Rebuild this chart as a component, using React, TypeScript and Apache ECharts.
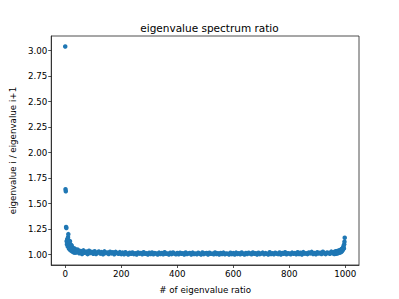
import React, { useEffect, useRef } from "react";
import * as echarts from "echarts";

const titleText = "eigenvalue spectrum ratio";
const xName = "# of eigenvalue ratio";
const yName = "eigenvalue i / eigenvalue i+1";

const xTicks = [0, 200, 400, 600, 800, 1000];
const yTicks = [1.0, 1.25, 1.5, 1.75, 2.0, 2.25, 2.5, 2.75, 3.0];

// indices 0..40 one by one
const headRatios = [
  3.04, 1.64, 1.62, 1.27, 1.26, 1.13, 1.1, 1.15, 1.12, 1.08, 1.17, 1.2, 1.14, 1.06, 1.11, 1.09, 1.05,
  1.13, 1.07, 1.1, 1.04, 1.08, 1.06, 1.09, 1.05, 1.03, 1.07, 1.04, 1.06, 1.03, 1.05, 1.02, 1.04,
  1.06, 1.03, 1.02, 1.04, 1.03, 1.05, 1.02, 1.03,
];

// indices 45..960 every 5th
const midStart = 45;
const midStep = 5;
const midRatios = [
  1.048, 1.012, 1.035, 1.006, 1.041, 1.018, 1.029, 1.004, 1.038, 1.015, 1.026, 1.008,
  1.033, 1.005, 1.021, 1.03, 1.009, 1.024, 1.002, 1.031, 1.014, 1.02, 1.006, 1.028, 1.011, 1.022,
  1.003, 1.026, 1.015, 1.008, 1.024, 1.004,
  1.019, 1.003, 1.022, 1.01, 1.001, 1.017, 1.008, 1.021, 1.004, 1.013,
  1.0, 1.02, 1.009, 1.015, 1.002, 1.023, 1.007, 1.012, 1.001, 1.018,
  1.006, 1.021, 1.003, 1.014, 1.01, 1.0, 1.019, 1.005, 1.016, 1.002,
  1.022, 1.008, 1.011, 1.001, 1.017, 1.004, 1.02, 1.009, 1.003, 1.015,
  1.002, 1.018, 1.007, 1.013, 1.0, 1.021, 1.005, 1.011, 1.016, 1.001,
  1.019, 1.006, 1.01, 1.003, 1.017, 1.008, 1.0, 1.02, 1.004, 1.012,
  1.015, 1.001, 1.018, 1.007, 1.009, 1.002, 1.021, 1.005, 1.013, 1.0,
  1.016, 1.006, 1.019, 1.003, 1.011, 1.008, 1.001, 1.017, 1.004, 1.014,
  1.001, 1.019, 1.006, 1.012, 1.003, 1.02, 1.008, 1.0, 1.015, 1.005,
  1.018, 1.01, 1.002, 1.021, 1.007, 1.013, 1.001, 1.017, 1.004, 1.011,
  1.019, 1.003, 1.014, 1.008, 1.0, 1.022, 1.006, 1.012, 1.002, 1.018,
  1.009, 1.004, 1.02, 1.001, 1.015, 1.007, 1.023, 1.003, 1.013, 1.01,
  1.002, 1.019, 1.008, 1.014, 1.003, 1.022, 1.006, 1.017, 1.001, 1.024,
  1.009, 1.013, 1.004, 1.02, 1.011, 1.026, 1.005, 1.016, 1.002, 1.023,
  1.01, 1.018, 1.006, 1.027, 1.013, 1.004, 1.021, 1.015, 1.008, 1.029,
  1.012, 1.024,
];

// indices 961..998 one by one
const tailStart = 961;
const tailRatios = [
  1.005, 1.022, 1.012, 1.03, 1.008, 1.025, 1.016, 1.032, 1.01, 1.027, 1.019, 1.035, 1.013, 1.029, 1.022,
  1.038, 1.016, 1.033, 1.025, 1.042, 1.02, 1.036, 1.03, 1.047, 1.024, 1.04, 1.052, 1.033, 1.058, 1.045,
  1.062, 1.05, 1.07, 1.085, 1.06, 1.1, 1.125, 1.165,
];

const FONT = "DejaVu Sans";

export default function App() {
  const ref = useRef<HTMLDivElement>(null);
  useEffect(() => {
    if (!ref.current) return;
    const chart = echarts.init(ref.current, null, { renderer: "svg" });
    const data: [number, number][] = [];
    headRatios.forEach((v, i) => data.push([i, v]));
    midRatios.forEach((v, i) => data.push([midStart + i * midStep, v]));
    tailRatios.forEach((v, i) => data.push([tailStart + i, v]));

    chart.setOption({
      animation: false,
      backgroundColor: "#ffffff",
      textStyle: { fontFamily: FONT },
      title: {
        text: titleText,
        left: 204.5,
        top: 17,
        textAlign: "center",
        textStyle: { fontFamily: FONT, fontSize: 10.5, fontWeight: "normal", color: "#000" },
      },
      grid: {
        left: 50,
        right: 40,
        top: 36,
        bottom: 33,
        show: true,
        borderColor: "#222",
        borderWidth: 0.8,
        backgroundColor: "transparent",
      },
      xAxis: {
        type: "value",
        min: -49.95,
        max: 1048.95,
        name: xName,
        nameLocation: "middle",
        nameGap: 20,
        nameTextStyle: { fontFamily: FONT, fontSize: 8.7, color: "#000" },
        axisLine: { show: true, onZero: false, lineStyle: { color: "#222", width: 0.8 } },
        axisTick: {
          show: true,
          length: 3,
          inside: false,
          customValues: xTicks,
          lineStyle: { color: "#222", width: 0.8 },
        },
        axisLabel: {
          customValues: xTicks,
          formatter: (v: number) => String(v),
          fontFamily: FONT,
          fontSize: 8.7,
          color: "#000",
          margin: 4,
        },
        splitLine: { show: false },
      },
      yAxis: {
        type: "value",
        min: 0.8975,
        max: 3.1425,
        name: yName,
        nameLocation: "middle",
        nameGap: 28,
        nameTextStyle: { fontFamily: FONT, fontSize: 8.7, color: "#000" },
        axisLine: { show: true, onZero: false, lineStyle: { color: "#222", width: 0.8 } },
        axisTick: {
          show: true,
          length: 3,
          inside: false,
          customValues: yTicks,
          lineStyle: { color: "#222", width: 0.8 },
        },
        axisLabel: {
          customValues: yTicks,
          formatter: (v: number) => v.toFixed(2),
          fontFamily: FONT,
          fontSize: 8.7,
          color: "#000",
          margin: 4,
        },
        splitLine: { show: false },
      },
      series: [
        {
          type: "scatter",
          data,
          symbol: "circle",
          symbolSize: 4.5,
          itemStyle: { color: "#1f77b4", opacity: 1 },
          silent: true,
        },
      ],
    });
    return () => chart.dispose();
  }, []);
  return <div ref={ref} style={{ width: 399, height: 299, position: "absolute", left: 0, top: 0 }} />;
}
